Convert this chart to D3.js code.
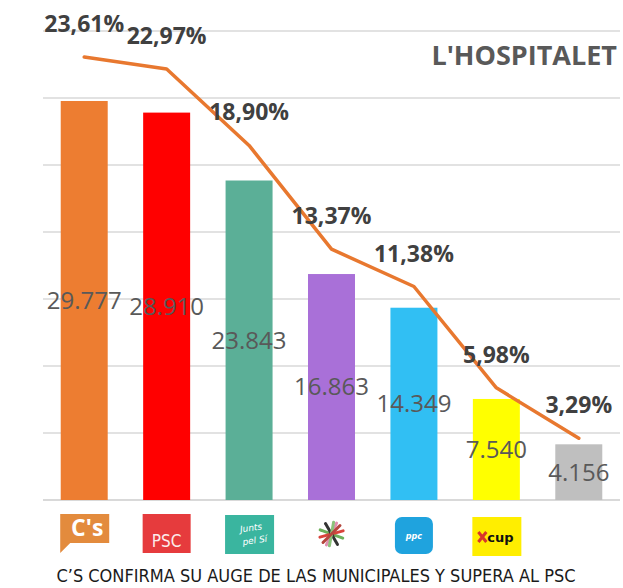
<!DOCTYPE html>
<html><head><meta charset="utf-8">
<script src="https://cdn.jsdelivr.net/npm/d3@7"></script>
<style>
body{margin:0;background:#fff}
svg{display:block}
</style>
</head><body>
<script>
// ---- data ----
const parties = ["Cs", "PSC", "JxSí", "CSQEP", "PP", "CUP", "Otros"];
const votes = [29777, 28910, 23843, 16863, 14349, 7540, 4156];
const voteLabels = ["29.777", "28.910", "23.843", "16.863", "14.349", "7.540", "4.156"];
const percents = [23.61, 22.97, 18.90, 13.37, 11.38, 5.98, 3.29];
const percentLabels = ["23,61%", "22,97%", "18,90%", "13,37%", "11,38%", "5,98%", "3,29%"];
const barColors = ["#ED7D31", "#FF0000", "#5BAF97", "#A970D8", "#31BFF3", "#FFFF00", "#BFBFBF"];
const gridTicks = [0, 5000, 10000, 15000, 20000, 25000, 30000, 35000];
const titleText = "L'HOSPITALET";
const captionText = "C’S CONFIRMA SU AUGE DE LAS MUNICIPALES Y SUPERA AL PSC";

// ---- layout ----
const W = 623, H = 588;
const svg = d3.select("body").append("svg").attr("width", W).attr("height", H);

const x = d3.scaleBand().domain(parties).range([43, 620]).paddingInner(0.43).paddingOuter(0.215);
const y = d3.scaleLinear().domain([0, 35000]).range([500, 31]);
const yP = d3.scaleLinear().domain([0, 25]).range([500, 31]);

// gridlines
svg.append("g").selectAll("line").data(gridTicks).join("line")
  .attr("x1", 43).attr("x2", 620)
  .attr("y1", d => y(d)).attr("y2", d => y(d))
  .attr("stroke", "#D9D9D9").attr("stroke-width", d => d === 0 ? 2 : 1.5);

// title
svg.append("text").attr("x", 617).attr("y", 65).attr("text-anchor", "end")
  .attr("font-family", "'Open Sans', sans-serif").attr("font-weight", 700)
  .attr("font-size", 27).attr("fill", "#595959").text(titleText);

// bars
const rows = parties.map((p, i) => ({p, v: votes[i], vl: voteLabels[i], pc: percents[i], pl: percentLabels[i], c: barColors[i]}));
svg.append("g").selectAll("rect").data(rows).join("rect")
  .attr("x", d => x(d.p)).attr("width", x.bandwidth())
  .attr("y", d => y(d.v)).attr("height", d => y(0) - y(d.v))
  .attr("fill", d => d.c);

// bar value labels (centered)
svg.append("g").selectAll("text").data(rows).join("text")
  .attr("x", d => x(d.p) + x.bandwidth() / 2)
  .attr("y", d => (y(d.v) + y(0)) / 2)
  .attr("dy", "0.35em").attr("text-anchor", "middle")
  .attr("font-family", "'Open Sans', sans-serif").attr("font-size", 24)
  .attr("fill", "#595959").text(d => d.vl);

// percentage line
const line = d3.line()
  .x(d => x(d.p) + x.bandwidth() / 2)
  .y(d => yP(d.pc))
  .curve(d3.curveLinear);
svg.append("path").datum(rows).attr("d", line)
  .attr("fill", "none").attr("stroke", "#E8782F").attr("stroke-width", 3.5)
  .attr("stroke-linecap", "round").attr("stroke-linejoin", "round");

// percentage labels
svg.append("g").selectAll("text").data(rows).join("text")
  .attr("x", d => x(d.p) + x.bandwidth() / 2)
  .attr("y", d => yP(d.pc) - 25)
  .attr("text-anchor", "middle")
  .attr("font-family", "'Open Sans', sans-serif").attr("font-weight", 700)
  .attr("font-size", 23).attr("fill", "#404040").text(d => d.pl);

// logos
const logos = svg.append("g");
function logoAt(p) {
  return logos.append("g").attr("transform", `translate(${x(p) + x.bandwidth() / 2},514)`);
}
// C's
{
  const g = logoAt("Cs");
  g.append("path").attr("d", "M-24,0H25V29H-14L-24,39Z").attr("fill", "#E38B3D");
  g.append("text").attr("x", 3).attr("y", 22).attr("text-anchor", "middle")
    .attr("font-family", "'Open Sans', sans-serif").attr("font-weight", 700)
    .attr("font-size", 23).attr("fill", "#fff").text("C's");
}
// PSC
{
  const g = logoAt("PSC");
  g.append("rect").attr("x", -24).attr("y", 0).attr("width", 48).attr("height", 39).attr("fill", "#E63B3D");
  g.append("text").attr("x", 0).attr("y", 33).attr("text-anchor", "middle")
    .attr("font-family", "'Liberation Sans Narrow', 'DejaVu Sans Condensed', sans-serif")
    .attr("font-size", 17).attr("fill", "#fff").attr("opacity", 0.9).text("PSC");
}
// JxSí
{
  const g = logoAt("JxSí");
  g.append("rect").attr("x", -24).attr("y", 1).attr("width", 49).attr("height", 39).attr("fill", "#3AB59F");
  g.append("text").attr("x", 0).attr("y", 17).attr("text-anchor", "middle")
    .attr("font-family", "'DejaVu Sans', sans-serif").attr("font-style", "italic")
    .attr("font-size", 9).attr("fill", "#fff").attr("transform", "rotate(-8)").text("Junts");
  g.append("text").attr("x", 2).attr("y", 30).attr("text-anchor", "middle")
    .attr("font-family", "'DejaVu Sans', sans-serif").attr("font-style", "italic")
    .attr("font-size", 9).attr("fill", "#fff").attr("transform", "rotate(-8)").text("pel Sí");
}
// CSQEP icon
{
  const g = logoAt("CSQEP");
  const strokes = [["#6DB05A", 20], ["#D9433B", -15], ["#333", 60], ["#E08FB0", -65], ["#8BC27A", 100], ["#B5473E", 135]];
  strokes.forEach(([c, a]) => {
    g.append("line").attr("x1", -12).attr("x2", 12).attr("y1", 0).attr("y2", 0)
      .attr("stroke", c).attr("stroke-width", 3).attr("stroke-linecap", "round")
      .attr("transform", `translate(0,20) rotate(${a})`);
  });
}
// PP
{
  const g = logoAt("PP");
  g.append("rect").attr("x", -19).attr("y", 3).attr("width", 38).attr("height", 37).attr("rx", 7).attr("fill", "#1FA3DE");
  g.append("text").attr("x", 0).attr("y", 25).attr("text-anchor", "middle")
    .attr("font-family", "'DejaVu Sans', sans-serif").attr("font-weight", 700).attr("font-style", "italic")
    .attr("font-size", 8).attr("fill", "#fff").text("ppc");
}
// CUP
{
  const g = logoAt("CUP");
  g.append("rect").attr("x", -24).attr("y", 3).attr("width", 49).attr("height", 39).attr("fill", "#FFEE00");
  g.append("path").attr("d", "M-18,18L-10,28M-18,28L-10,18").attr("stroke", "#D8362B").attr("stroke-width", 3);
  g.append("text").attr("x", 4).attr("y", 28).attr("text-anchor", "middle")
    .attr("font-family", "'DejaVu Sans', sans-serif").attr("font-weight", 700)
    .attr("font-size", 13).attr("fill", "#111").text("cup");
}

// caption
svg.append("text").attr("x", 316).attr("y", 582).attr("text-anchor", "middle")
  .attr("font-family", "'Liberation Sans Narrow', 'DejaVu Sans Condensed', sans-serif")
  .attr("font-size", 18).attr("fill", "#1a1a1a").text(captionText);
</script>
</body></html>
